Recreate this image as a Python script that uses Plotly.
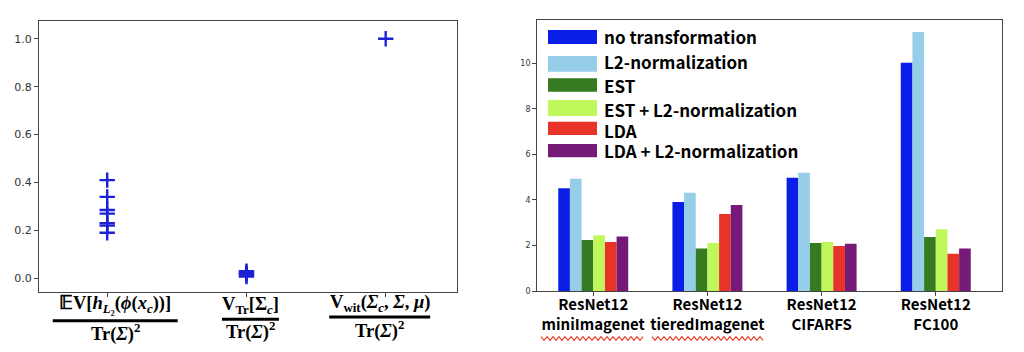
"""Two-panel figure: normalized variance terms (left) and ratios per backbone/dataset (right)."""
import plotly.graph_objects as go

W, H = 1024, 352

# ---- left panel data ----
left_categories = ["c0", "c1", "c2"]
left_points = {
    "c0": [0.41, 0.34, 0.285, 0.27, 0.23, 0.22, 0.19],
    "c1": [0.008, 0.015, 0.02, 0.025, 0.03],
    "c2": [1.0],
}
left_ticks = [0.0, 0.2, 0.4, 0.6, 0.8, 1.0]
left_numerators = [
    "𝔼V[<i>h</i><sub><i>L</i>₂</sub>(<i>ϕ</i>(<i>x</i><sub><i>c</i></sub>))]",
    "V<sub>Tr</sub>[Σ<sub><i>c</i></sub>]",
    "V<sub>wit</sub>(<i>Σ</i><sub><i>c</i></sub>, <i>Σ</i>, <i>μ</i>)",
]
left_denominator = "Tr(<i>Σ</i>)<sup>2</sup>"

# ---- right panel data ----
datasets = [
    "ResNet12<br>miniImagenet",
    "ResNet12<br>tieredImagenet",
    "ResNet12<br>CIFARFS",
    "ResNet12<br>FC100",
]
series_names = [
    "no transformation",
    "L2-normalization",
    "EST",
    "EST + L2-normalization",
    "LDA",
    "LDA + L2-normalization",
]
series_values = [
    [4.51, 3.91, 4.98, 10.03],
    [4.93, 4.32, 5.20, 11.38],
    [2.24, 1.87, 2.11, 2.37],
    [2.45, 2.11, 2.15, 2.71],
    [2.15, 3.38, 1.98, 1.64],
    [2.40, 3.78, 2.08, 1.87],
]
series_colors = ["#0a1ee8", "#96cde8", "#367a22", "#c0f75a", "#e83428", "#761a78"]
right_ticks = [0, 2, 4, 6, 8, 10]


def px(x):
    return x / W


def py(y):
    return 1 - y / H


fig = go.Figure()

# left: scatter of crosses
for i, cat in enumerate(left_categories):
    vals = left_points[cat]
    fig.add_trace(
        go.Scatter(
            x=[i] * len(vals),
            y=vals,
            mode="markers",
            marker={
                "symbol": "cross-thin",
                "size": 11,
                "line": {"color": "#1c22d8", "width": 2.4},
            },
            showlegend=False,
            xaxis="x",
            yaxis="y",
        )
    )

# right: grouped bars
for name, vals, color in zip(series_names, series_values, series_colors):
    fig.add_trace(
        go.Bar(
            x=list(range(len(datasets))),
            y=vals,
            name=name,
            marker={"color": color, "line": {"width": 0}},
            showlegend=False,
            xaxis="x2",
            yaxis="y2",
        )
    )

axis_style = {
    "showline": True,
    "linecolor": "#444",
    "linewidth": 1.3,
    "mirror": True,
    "showgrid": False,
    "zeroline": False,
    "ticks": "outside",
    "ticklen": 4,
    "tickcolor": "#444",
    "automargin": False,
}

annotations = []
shapes = []

# left x labels as fractions
num_y = [304, 305, 303]
bar_y = [320.7, 319.3, 317]
den_y = [332, 330, 329]
bar_half = [62.5, 28.5, 50.5]
shift = [8, 4, -6]
for i, num in enumerate(left_numerators):
    annotations.append(
        dict(
            x=i, xref="x", xshift=shift[i], y=py(num_y[i]), yref="paper",
            text=f"<b>{num}</b>", showarrow=False,
            font={"family": "Liberation Serif", "size": 18.5, "color": "black"},
            yanchor="middle",
        )
    )
    annotations.append(
        dict(
            x=i, xref="x", xshift=shift[i], y=py(den_y[i]), yref="paper",
            text=f"<b>{left_denominator}</b>", showarrow=False,
            font={"family": "Liberation Serif", "size": 18.5, "color": "black"},
            yanchor="middle",
        )
    )
    shapes.append(
        dict(
            type="line", xref="x", xsizemode="pixel", xanchor=i,
            x0=shift[i] - bar_half[i], x1=shift[i] + bar_half[i],
            yref="paper", y0=py(bar_y[i]), y1=py(bar_y[i]),
            line={"color": "black", "width": 3},
        )
    )

# right legend drawn by hand (wide colour swatches)
legend_rows = [
    (30, 44), (56, 71.7), (78.3, 91.7), (100, 116), (121.7, 135), (144, 157.3)
]
legend_text_y = [36, 61.7, 85, 109.3, 130, 150.7]
for k, (name, color) in enumerate(zip(series_names, series_colors)):
    top, bot = legend_rows[k]
    shapes.append(
        dict(
            type="rect", xref="paper", yref="paper",
            x0=px(548), x1=px(597), y0=py(bot), y1=py(top),
            fillcolor=color, line={"width": 0},
        )
    )
    annotations.append(
        dict(
            x=px(602), y=py(legend_text_y[k]), xref="paper", yref="paper",
            xanchor="left", yanchor="middle", showarrow=False,
            text=f"<b>{name}</b>",
            font={"family": "Noto Sans CJK JP", "size": 17, "color": "black"},
        )
    )


# red wavy spell-check underline below two dataset names
def wavy(x0, x1, y, step=3.0, amp=1.8):
    pts = []
    x = x0
    up = True
    while x <= x1:
        pts.append((x, y - amp if up else y + amp))
        x += step
        up = not up
    path = "M " + " L ".join(f"{px(a):.5f},{py(b):.5f}" for a, b in pts)
    return dict(type="path", xref="paper", yref="paper", path=path,
                line={"color": "#e8402a", "width": 1.2})


shapes.append(wavy(541, 644, 338.5))
shapes.append(wavy(652, 763, 338.5))

fig.update_layout(
    width=W,
    height=H,
    margin={"l": 0, "r": 0, "t": 0, "b": 0},
    paper_bgcolor="white",
    plot_bgcolor="white",
    barmode="group",
    bargap=0.387,
    bargroupgap=0,
    showlegend=False,
    xaxis={
        **axis_style,
        "domain": [px(39), px(456.7)],
        "range": [-0.49, 2.51],
        "tickvals": [0, 1, 2],
        "showticklabels": False,
    },
    yaxis={
        **axis_style,
        "domain": [py(292), py(21)],
        "range": [-0.057, 1.074],
        "tickvals": left_ticks,
        "tickformat": ".1f",
        "tickfont": {"family": "DejaVu Sans", "size": 11, "color": "#333"},
    },
    xaxis2={
        **axis_style,
        "anchor": "y2",
        "domain": [px(537.3), px(1002)],
        "range": [-0.49, 3.58],
        "tickvals": list(range(len(datasets))),
        "ticktext": [f"<b>{d}</b>" for d in datasets],
        "tickangle": 0,
        "ticklabelstandoff": -4,
        "tickfont": {"family": "Noto Sans CJK JP", "size": 15, "color": "black"},
    },
    yaxis2={
        **axis_style,
        "anchor": "x2",
        "domain": [py(291), py(19.5)],
        "range": [0, 11.93],
        "tickvals": right_ticks,
        "tickfont": {"family": "DejaVu Sans", "size": 8, "color": "#333"},
    },
    annotations=annotations,
    shapes=shapes,
)

fig.write_html(
    "out.html",
    config={"displayModeBar": False},
    post_script="document.body.style.margin='0px';",
)
